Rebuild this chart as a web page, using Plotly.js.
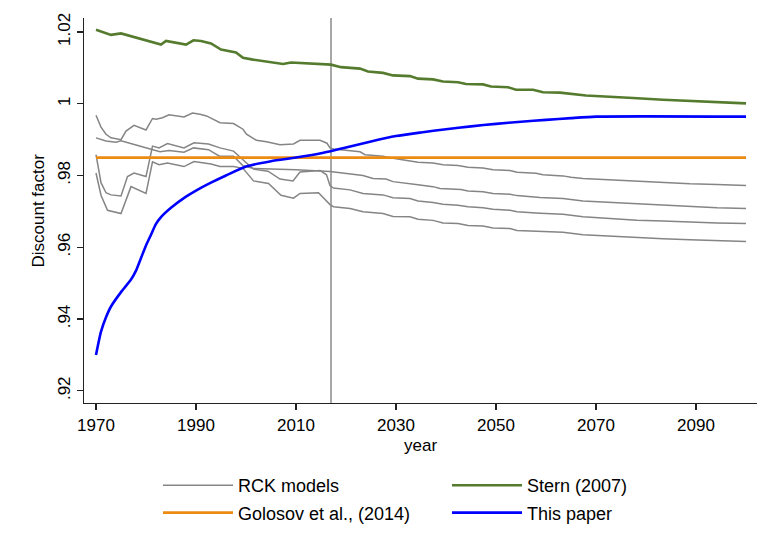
<!DOCTYPE html>
<html>
<head>
<meta charset="utf-8">
<script src="https://cdn.plot.ly/plotly-3.0.1.min.js"></script>
<style>html,body{margin:0;padding:0;background:#fff;}#chart{width:761px;height:554px;}</style>
</head>
<body>
<div id="chart"></div>
<script>
// ---- data ----
const rckA_years = [1970,1971,1972,1973,1975,1976,1977.6,1980,1981.3,1982,1983.3,1984.6,1987.6,1989.3,1990.8,1992.1,1994.8,1997.5,1999.4,2000.1,2002.1,2004.1,2006.8,2009.5,2010.8,2014.8,2016.2,2016.8,2017.5,2020.8,2022.8,2023.8,2027.4,2029.4,2032.8,2034.4,2037.4,2039.4,2042.4,2044.4,2047.4,2049.4,2052.8,2054.2,2058,2059.4,2063.4,2065,2067.4,2072.8,2078.2,2083.4,2088.8,2094.2,2100];
const rckA_vals  = [0.9968,0.9935,0.9915,0.9905,0.9900,0.9924,0.9940,0.9927,0.9959,0.9957,0.9961,0.9969,0.9963,0.9974,0.9971,0.9966,0.9947,0.9945,0.9929,0.9915,0.9898,0.9894,0.9886,0.9888,0.9898,0.9898,0.9890,0.9877,0.9874,0.9869,0.9866,0.9858,0.9854,0.9848,0.9841,0.9837,0.9835,0.9830,0.9828,0.9823,0.9821,0.9816,0.9814,0.9809,0.9806,0.9802,0.9799,0.9795,0.9792,0.9788,0.9783,0.9780,0.9777,0.9775,0.9772];

const rckB_years = [1970,1972,1974,1975,1978,1982.8,1984.6,1987.6,1989.5,1992.5,1994.7,1997.5,1999.4,2001.4,2005,2010,2016.8,2020.8,2023.4,2025.4,2028,2029.4,2032.8,2034.4,2037.4,2038.8,2043,2044.4,2047.4,2049.4,2052.8,2054.2,2058.8,2063.4,2067.4,2072.8,2078.2,2083.4,2088.8,2094.2,2100];
const rckB_vals  = [0.9905,0.9896,0.9893,0.9897,0.9885,0.9866,0.9870,0.9865,0.9877,0.9872,0.9854,0.9854,0.9827,0.9820,0.9818,0.9816,0.9811,0.9804,0.9800,0.9792,0.9790,0.9783,0.9778,0.9774,0.9769,0.9764,0.9761,0.9757,0.9755,0.9750,0.9748,0.9744,0.9739,0.9736,0.9729,0.9725,0.9720,0.9717,0.9713,0.9710,0.9708];

const rckC_years = [1970,1971,1972,1973,1975,1976.3,1977.6,1980,1981.3,1982.6,1984.3,1987.6,1989.6,1992.5,1994.8,1997.5,2000.1,2001.5,2004.4,2006.8,2009.4,2010.8,2014.8,2016.1,2016.8,2017.5,2020.8,2023.4,2027.4,2029.4,2032.8,2034.4,2037.4,2039.4,2042.4,2044.4,2047.4,2049.4,2052.8,2054.2,2058.8,2063.4,2067.4,2072.8,2078.2,2083.4,2088.8,2094.2,2100];
const rckC_vals  = [0.9858,0.9780,0.9752,0.9746,0.9743,0.9797,0.9807,0.9797,0.9882,0.9877,0.9889,0.9877,0.9891,0.9888,0.9877,0.9868,0.9835,0.9818,0.9812,0.9790,0.9785,0.9810,0.9814,0.9802,0.9772,0.9765,0.9760,0.9750,0.9746,0.9738,0.9736,0.9729,0.9725,0.9720,0.9717,0.9713,0.9710,0.9706,0.9703,0.9699,0.9695,0.9692,0.9685,0.9680,0.9675,0.9673,0.9670,0.9668,0.9666];

const rckD_years = [1970,1971,1972.3,1975,1977,1980,1981.3,1982.6,1984.3,1987.6,1989.6,1993,1994.8,1997.5,1999.4,2000.8,2001.5,2004.5,2007,2009.5,2010.8,2014.5,2016.1,2016.8,2017.5,2020.8,2023.4,2027.4,2029.4,2032.8,2034.4,2037.4,2039.4,2042.4,2044.4,2047.4,2049.4,2052.8,2054.2,2058.8,2063.4,2067.4,2072.8,2078.2,2083.4,2088.8,2094.2,2100];
const rckD_vals  = [0.9807,0.9745,0.9703,0.9694,0.9769,0.9750,0.9838,0.9830,0.9835,0.9825,0.9839,0.9832,0.9825,0.9825,0.9820,0.9795,0.9785,0.9778,0.9745,0.9737,0.9750,0.9752,0.9731,0.9719,0.9713,0.9708,0.9699,0.9694,0.9686,0.9685,0.9678,0.9675,0.9668,0.9666,0.9661,0.9659,0.9654,0.9652,0.9647,0.9645,0.9642,0.9635,0.9631,0.9626,0.9624,0.9621,0.9618,0.9616];

const stern_years = [1970,1973,1975,1979,1983,1984,1988,1989.5,1991,1993,1995,1998,1999.4,2001.4,2007.4,2009,2017,2019,2022.8,2024.4,2027.4,2029.4,2032.8,2034.4,2037.4,2039.4,2042.4,2044,2047.4,2049,2052.4,2054,2057.4,2059.4,2062.8,2068,2072.8,2077.4,2083.4,2088.8,2094,2098,2100];
const stern_vals  = [1.0206,1.0192,1.0196,1.0180,1.0165,1.0175,1.0165,1.0177,1.0175,1.0168,1.0151,1.0143,1.0128,1.0123,1.0111,1.0115,1.0109,1.0102,1.0098,1.0090,1.0086,1.0079,1.0077,1.0070,1.0068,1.0062,1.0060,1.0055,1.0054,1.0048,1.0046,1.0039,1.0039,1.0032,1.0031,1.0023,1.0020,1.0016,1.0011,1.0008,1.0005,1.0004,1.0001];

const golosov_years = [1970,2100];
const golosov_vals  = [0.985,0.985];

const paper_years = [1970,1971,1972,1973,1975,1977,1978,1979,1980,1981,1982,1983,1985,1988,1990,1993,1996,2000,2005,2010,2015,2020,2025,2030,2035,2040,2045,2050,2055,2060,2065,2070,2100];
const paper_vals  = [0.9300,0.9365,0.9405,0.9435,0.9475,0.9510,0.9535,0.9570,0.9605,0.9635,0.9665,0.9684,0.9710,0.9741,0.9758,0.9780,0.9800,0.9825,0.9840,0.9850,0.9862,0.9878,0.9895,0.9910,0.9920,0.9929,0.9937,0.9944,0.9950,0.9955,0.9960,0.9964,0.9964];

const policyYear = 2017;
const xTicks = [1970,1990,2010,2030,2050,2070,2090];
const yTicks = [0.92,0.94,0.96,0.98,1,1.02];
const yTickText = ['.92','.94','.96','.98','1','1.02'];
const xTitle = 'year';
const yTitle = 'Discount factor';

// ---- styles ----
const gray = '#858585', green = '#557b2e', orange = '#ec8a12', blue = '#0000ff';
const FONT = 'Liberation Sans, Arial, Helvetica, sans-serif';
const W = 761, H = 554;

function rck(x, y, show) {
  return {x, y, type:'scatter', mode:'lines', name:'RCK models', legendgroup:'rck', legend:'legend',
          showlegend: show, line:{color:gray, width:1.5}, hoverinfo:'skip'};
}
const traces = [
  rck(rckA_years, rckA_vals, true),
  rck(rckB_years, rckB_vals, false),
  rck(rckC_years, rckC_vals, false),
  rck(rckD_years, rckD_vals, false),
  {x:stern_years, y:stern_vals, type:'scatter', mode:'lines', name:'Stern (2007)', legend:'legend2', legendgroup:'stern', line:{color:green, width:2.6}},
  {x:golosov_years, y:golosov_vals, type:'scatter', mode:'lines', name:'Golosov et al., (2014)', legend:'legend', legendgroup:'gol', line:{color:orange, width:2.6}},
  {x:paper_years, y:paper_vals, type:'scatter', mode:'lines', name:'This paper', legend:'legend2', legendgroup:'paper', line:{color:blue, width:2.6, shape:'spline', smoothing:0.6}}
];

function legendBox(xpx) {
  return {orientation:'v', xref:'container', yref:'container', x:xpx/W, y:1-467/H, xanchor:'left', yanchor:'top',
          itemwidth:70, tracegroupgap:1, font:{size:18, family:FONT, color:'#000'},
          bgcolor:'rgba(0,0,0,0)', traceorder:'grouped'};
}

const layout = {
  width:W, height:H,
  paper_bgcolor:'#ffffff', plot_bgcolor:'#ffffff',
  font:{family:FONT, size:17, color:'#000'},
  margin:{l:84, r:4, t:18, b:151, autoexpand:false},
  showlegend:true,
  legend: legendBox(158),
  legend2: legendBox(447),
  xaxis:{range:[1967.6,2102.2], tickvals:xTicks, ticks:'outside', ticklen:6, tickwidth:1.2, tickcolor:'#222',
         showline:true, linecolor:'#222', linewidth:1.3, showgrid:false, zeroline:false,
         tickfont:{size:17}},
  yaxis:{range:[0.9166,1.0239], tickvals:yTicks, ticktext:yTickText, tickangle:-90, ticks:'outside', ticklen:6,
         tickwidth:1.2, tickcolor:'#222', showline:true, linecolor:'#222', linewidth:1.3, showgrid:false, zeroline:false,
         tickfont:{size:17}},
  annotations:[
    {text:yTitle, xref:'paper', yref:'paper', x:-(84-38)/673, y:0.5, textangle:-90, showarrow:false,
     xanchor:'center', yanchor:'middle', font:{size:17, family:FONT, color:'#000'}},
    {text:xTitle, xref:'paper', yref:'paper', x:0.5, y:-(445-403)/385, showarrow:false,
     xanchor:'center', yanchor:'middle', font:{size:17, family:FONT, color:'#000'}}
  ],
  shapes:[{type:'line', xref:'x', yref:'paper', x0:policyYear, x1:policyYear, y0:0, y1:1,
           line:{color:'#8a8a8a', width:1.5}, layer:'below'}]
};

Plotly.newPlot('chart', traces, layout, {staticPlot:true, displayModeBar:false});
</script>
</body>
</html>
